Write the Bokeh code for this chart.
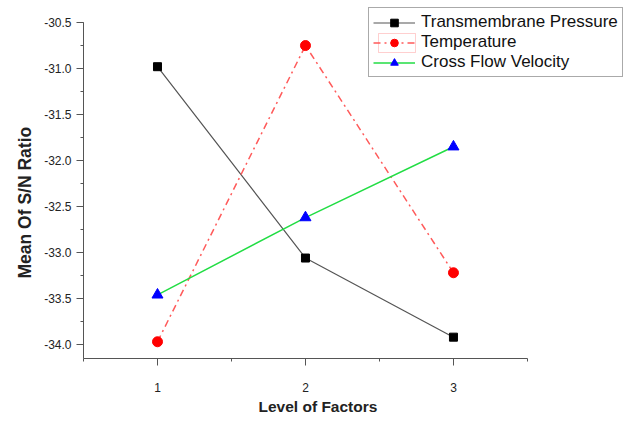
from bokeh.plotting import figure
from bokeh.models import (FixedTicker, Legend, LegendItem, Range1d, Title,
                          BoxAnnotation, CustomJSTickFormatter)
from bokeh.embed import file_html
from bokeh.resources import INLINE

levels = [1, 2, 3]
tmp = [-30.98, -33.06, -33.92]
temperature = [-33.97, -30.75, -33.22]
cfv = [-33.46, -32.62, -31.85]
x_ticks = [1, 2, 3]
x_minor = [0.5, 1.5, 2.5, 3.5]
y_ticks = [-34.0, -33.5, -33.0, -32.5, -32.0, -31.5, -31.0, -30.5]
y_minor = [-34.25 + 0.25 * i for i in range(16)]
series_names = ["Transmembrane Pressure", "Temperature", "Cross Flow Velocity"]
x_title = "Level of Factors"
y_title = "Mean Of S/N Ratio"

p = figure(width=629, height=421, output_backend="svg", toolbar_location=None,
           x_range=Range1d(0.5, 4.176), y_range=Range1d(-34.152, -30.293),
           min_border_left=83, min_border_right=2, min_border_top=3, min_border_bottom=63)
p.outline_line_color = None
p.xgrid.visible = False
p.ygrid.visible = False

font = "Liberation Sans"
for ax in (p.xaxis[0], p.yaxis[0]):
    ax.axis_line_color = "#555555"
    ax.major_tick_line_color = "#555555"
    ax.minor_tick_line_color = "#555555"
    ax.major_tick_in = 0
    ax.major_tick_out = 7
    ax.minor_tick_in = 0
    ax.minor_tick_out = 3
    ax.major_label_text_font = font
    ax.major_label_text_font_size = "12px"
    ax.major_label_text_color = "#222222"

p.xaxis.ticker = FixedTicker(ticks=x_ticks, minor_ticks=x_minor)
p.xaxis.bounds = (0.5, 3.5)
p.xaxis.major_label_standoff = 17
p.xaxis.formatter = CustomJSTickFormatter(code="return tick.toFixed(0);")

p.yaxis.ticker = FixedTicker(ticks=y_ticks, minor_ticks=y_minor)
p.yaxis.bounds = (-34.152, -30.5)
p.yaxis.major_label_standoff = 5
p.yaxis.formatter = CustomJSTickFormatter(code="return tick.toFixed(1);")

# axis titles placed in the side panels so they can be offset along the axis
p.add_layout(Title(text=x_title, align="left", offset=175, vertical_align="middle",
                   standoff=5, text_font=font, text_font_size="15.5px",
                   text_font_style="bold", text_color="#222222"), "below")
p.add_layout(Title(text=y_title, align="left", offset=80, vertical_align="middle",
                   standoff=12, text_font=font, text_font_size="17.5px",
                   text_font_style="bold", text_color="#222222"), "left")

l1 = p.line(levels, tmp, line_color="#555555", line_width=1.2)
m1 = p.scatter(levels, tmp, marker="square", size=8, fill_color="black", line_color="black")
l2 = p.line(levels, temperature, line_color="#ff5a5a", line_width=1.5, line_dash="7 4 2 4")
m2 = p.scatter(levels, temperature, marker="circle", size=10, fill_color="#ff0000", line_color="#ff0000")
l3 = p.line(levels, cfv, line_color="#22dd44", line_width=1.5)
m3 = p.scatter(levels, cfv, marker="triangle", size=11, fill_color="#0000ff", line_color="#0000ff")

# highlight frame around the Temperature legend glyph (drawn beneath a transparent legend)
p.add_layout(BoxAnnotation(left=295, right=332, top=306, bottom=325,
                           left_units="screen", right_units="screen",
                           top_units="screen", bottom_units="screen",
                           fill_color=None, line_color="#ff6060", line_width=1))

legend = Legend(items=[
    LegendItem(label=series_names[0], renderers=[l1, m1]),
    LegendItem(label=series_names[1], renderers=[l2, m2]),
    LegendItem(label=series_names[2], renderers=[l3, m3]),
], location=(285, 281))
legend.label_text_font = font
legend.label_text_font_size = "17px"
legend.label_text_color = "#111111"
legend.border_line_color = "#555555"
legend.border_line_width = 1
legend.background_fill_alpha = 0
legend.padding = 4
legend.spacing = 0
legend.margin = 0
legend.glyph_width = 42
legend.glyph_height = 19
legend.label_height = 19
legend.label_standoff = 6
p.add_layout(legend)

open("out.html", "w").write(file_html(p, INLINE))
